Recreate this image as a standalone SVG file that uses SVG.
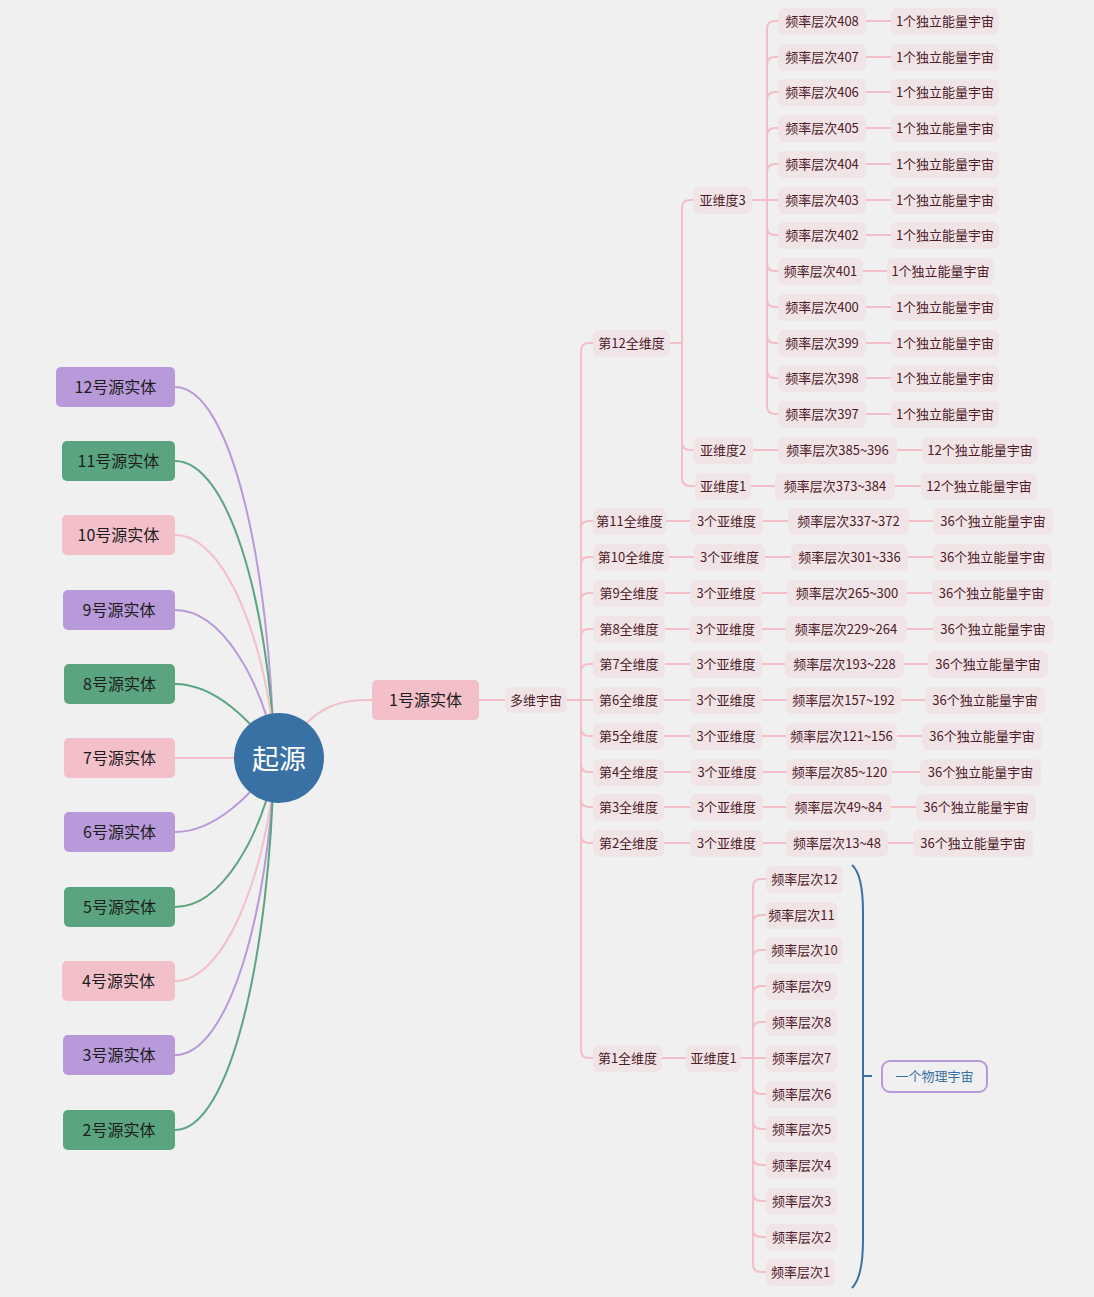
<svg xmlns="http://www.w3.org/2000/svg" width="1094" height="1297" viewBox="0 0 1094 1297">
<style>
text{font-family:'Noto Sans CJK SC','Noto Sans',sans-serif;dominant-baseline:central;text-anchor:middle;transform:translateY(-1px)}
.ln{fill:none;stroke:#f4bec8;stroke-width:2}
.sm rect{fill:#f1e4e7}
.sm text{font-size:13px;fill:#4d1a28}
.src text{font-size:16px;fill:#1d1d1d}
.pu{fill:#b899d9}.gr{fill:#5aa57f}.pk{fill:#f3bfc8}
.cpu{fill:none;stroke:#b899d9;stroke-width:2}
.cgr{fill:none;stroke:#5aa57f;stroke-width:2}
.cpk{fill:none;stroke:#f3bfc8;stroke-width:2}
</style>
<rect width="1094" height="1297" fill="#f0f0f0"/>

<g id="connectors">
  <!-- root to source entities -->
  <path class="cpu" d="M175 387C230 387 270 560 274 758"/>
  <path class="cgr" d="M175 461C228 461 268 600 275 758"/>
  <path class="cpk" d="M175 535C225 535 266 640 276 758"/>
  <path class="cpu" d="M175 610C222 610 262 680 277 758"/>
  <path class="cgr" d="M175 684C215 684 250 720 279 758"/>
  <path class="cpk" d="M175 758H279"/>
  <path class="cpu" d="M175 832C215 832 250 796 279 758"/>
  <path class="cgr" d="M175 907C222 907 262 836 277 758"/>
  <path class="cpk" d="M175 981C225 981 266 876 276 758"/>
  <path class="cpu" d="M175 1055C228 1055 268 916 275 758"/>
  <path class="cgr" d="M175 1130C230 1130 270 956 274 758"/>
  <path class="cpk" d="M279 758C315 700 345 700 372 700"/>

  <!-- 1号源实体 -> 多维宇宙 -->
  <path class="ln" d="M479 700H505"/>
  <!-- 多维宇宙 -> 全维度 -->
  <path class="ln" d="M567 700H581V351Q581 343 589 343H593"/>
  <path class="ln" d="M567 700H581V529Q581 521 589 521H593"/>
  <path class="ln" d="M567 700H581V565Q581 557 589 557H593"/>
  <path class="ln" d="M567 700H581V601Q581 593 589 593H593"/>
  <path class="ln" d="M567 700H581V637Q581 629 589 629H593"/>
  <path class="ln" d="M567 700H581V672Q581 664 589 664H593"/>
  <path class="ln" d="M567 700H593"/>
  <path class="ln" d="M567 700H581V728Q581 736 589 736H593"/>
  <path class="ln" d="M567 700H581V764Q581 772 589 772H593"/>
  <path class="ln" d="M567 700H581V799Q581 807 589 807H593"/>
  <path class="ln" d="M567 700H581V835Q581 843 589 843H593"/>
  <path class="ln" d="M567 700H581V1050Q581 1058 589 1058H593"/>

  <!-- 第12全维度 -> 亚维度 -->
  <path class="ln" d="M670 343H682V208Q682 200 690 200H693"/>
  <path class="ln" d="M670 343H682V442Q682 450 690 450H693"/>
  <path class="ln" d="M670 343H682V478Q682 486 690 486H695"/>

  <!-- 亚维度3 -> 频率层次 -->
  <path class="ln" d="M752 200H767V29Q767 21 775 21H778"/>
  <path class="ln" d="M752 200H767V65Q767 57 775 57H778"/>
  <path class="ln" d="M752 200H767V100Q767 92 775 92H778"/>
  <path class="ln" d="M752 200H767V136Q767 128 775 128H778"/>
  <path class="ln" d="M752 200H767V172Q767 164 775 164H778"/>
  <path class="ln" d="M752 200H778"/>
  <path class="ln" d="M752 200H767V227Q767 235 775 235H778"/>
  <path class="ln" d="M752 200H767V263Q767 271 775 271H778"/>
  <path class="ln" d="M752 200H767V299Q767 307 775 307H778"/>
  <path class="ln" d="M752 200H767V335Q767 343 775 343H778"/>
  <path class="ln" d="M752 200H767V370Q767 378 775 378H778"/>
  <path class="ln" d="M752 200H767V406Q767 414 775 414H778"/>

  <!-- 频率层次 -> 独立能量宇宙 -->
  <path class="ln" d="M866 21H891M866 57H891M866 92H891M866 128H891M866 164H891M866 200H891M866 235H891M863 271H887M866 307H891M866 343H891M866 378H891M866 414H891"/>

  <!-- 亚维度2 / 亚维度1 chains -->
  <path class="ln" d="M753 450H778M897 450H922"/>
  <path class="ln" d="M751 486H775M895 486H921"/>

  <!-- 第11 ~ 第2全维度 chains -->
  <path class="ln" d="M666 521H690M763 521H788M909 521H933"/>
  <path class="ln" d="M669 557H694M765 557H791M908 557H933"/>
  <path class="ln" d="M665 593H690M762 593H787M907 593H932"/>
  <path class="ln" d="M665 629H689M762 629H785M907 629H933"/>
  <path class="ln" d="M665 664H690M762 664H785M904 664H928"/>
  <path class="ln" d="M664 700H690M762 700H786M901 700H925"/>
  <path class="ln" d="M664 736H690M762 736H786M897 736H922"/>
  <path class="ln" d="M664 772H691M763 772H787M892 772H920"/>
  <path class="ln" d="M664 807H690M763 807H786M891 807H916"/>
  <path class="ln" d="M664 843H690M763 843H786M888 843H913"/>

  <!-- 第1全维度 -> 亚维度1 -> 频率层次 -->
  <path class="ln" d="M662 1058H686"/>
  <path class="ln" d="M741 1058H753V887Q753 879 761 879H766"/>
  <path class="ln" d="M741 1058H753V923Q753 915 761 915H766"/>
  <path class="ln" d="M741 1058H753V958Q753 950 761 950H766"/>
  <path class="ln" d="M741 1058H753V994Q753 986 761 986H766"/>
  <path class="ln" d="M741 1058H753V1030Q753 1022 761 1022H766"/>
  <path class="ln" d="M741 1058H766"/>
  <path class="ln" d="M741 1058H753V1086Q753 1094 761 1094H766"/>
  <path class="ln" d="M741 1058H753V1121Q753 1129 761 1129H766"/>
  <path class="ln" d="M741 1058H753V1157Q753 1165 761 1165H766"/>
  <path class="ln" d="M741 1058H753V1193Q753 1201 761 1201H766"/>
  <path class="ln" d="M741 1058H753V1229Q753 1237 761 1237H766"/>
  <path class="ln" d="M741 1058H753V1264Q753 1272 761 1272H766"/>

  <!-- summary brace -->
  <path d="M852 865C860 872 863 890 863 912V1240C863 1262 860 1280 852 1288" fill="none" stroke="#3a71a5" stroke-width="2"/>
  <path d="M863 1076H872" fill="none" stroke="#3a71a5" stroke-width="2"/>
</g>

<!-- central topic -->
<g id="root">
  <circle cx="279" cy="758" r="45" fill="#3a71a5"/>
  <text x="279" y="758" font-size="27" fill="#ffffff">起源</text>
</g>

<!-- source entities -->
<g class="src">
  <g id="src12"><rect class="pu" x="56" y="367" width="119" height="40" rx="5"/><text x="115.5" y="387">12号源实体</text></g>
  <g id="src11"><rect class="gr" x="62" y="441" width="113" height="40" rx="5"/><text x="118.5" y="461">11号源实体</text></g>
  <g id="src10"><rect class="pk" x="62" y="515" width="113" height="40" rx="5"/><text x="118.5" y="535">10号源实体</text></g>
  <g id="src9"><rect class="pu" x="63" y="590" width="112" height="40" rx="5"/><text x="119" y="610">9号源实体</text></g>
  <g id="src8"><rect class="gr" x="64" y="664" width="111" height="40" rx="5"/><text x="119.5" y="684">8号源实体</text></g>
  <g id="src7"><rect class="pk" x="64" y="738" width="111" height="40" rx="5"/><text x="119.5" y="758">7号源实体</text></g>
  <g id="src6"><rect class="pu" x="64" y="812" width="111" height="40" rx="5"/><text x="119.5" y="832">6号源实体</text></g>
  <g id="src5"><rect class="gr" x="64" y="887" width="111" height="40" rx="5"/><text x="119.5" y="907">5号源实体</text></g>
  <g id="src4"><rect class="pk" x="62" y="961" width="113" height="40" rx="5"/><text x="118.5" y="981">4号源实体</text></g>
  <g id="src3"><rect class="pu" x="63" y="1035" width="112" height="40" rx="5"/><text x="119" y="1055">3号源实体</text></g>
  <g id="src2"><rect class="gr" x="63" y="1110" width="112" height="40" rx="5"/><text x="119" y="1130">2号源实体</text></g>
  <g id="src1"><rect class="pk" x="372" y="680" width="107" height="40" rx="5"/><text x="425.5" y="700">1号源实体</text></g>
</g>

<g class="sm">
  <g id="multiverse"><rect x="505" y="687" width="62" height="26" rx="6"/><text x="536" y="700">多维宇宙</text></g>

  <!-- 全维度 -->
  <g id="d12"><rect x="593" y="330" width="77" height="27" rx="6"/><text x="631.5" y="343">第12全维度</text></g>
  <g id="d11"><rect x="593" y="508" width="73" height="27" rx="6"/><text x="629.5" y="521">第11全维度</text></g>
  <g id="d10"><rect x="593" y="544" width="76" height="27" rx="6"/><text x="631" y="557">第10全维度</text></g>
  <g id="d9"><rect x="593" y="580" width="72" height="27" rx="6"/><text x="629" y="593">第9全维度</text></g>
  <g id="d8"><rect x="593" y="616" width="72" height="27" rx="6"/><text x="629" y="629">第8全维度</text></g>
  <g id="d7"><rect x="593" y="651" width="72" height="27" rx="6"/><text x="629" y="664">第7全维度</text></g>
  <g id="d6"><rect x="593" y="687" width="71" height="27" rx="6"/><text x="628.5" y="700">第6全维度</text></g>
  <g id="d5"><rect x="593" y="723" width="71" height="27" rx="6"/><text x="628.5" y="736">第5全维度</text></g>
  <g id="d4"><rect x="593" y="759" width="71" height="27" rx="6"/><text x="628.5" y="772">第4全维度</text></g>
  <g id="d3"><rect x="593" y="794" width="71" height="27" rx="6"/><text x="628.5" y="807">第3全维度</text></g>
  <g id="d2"><rect x="593" y="830" width="71" height="27" rx="6"/><text x="628.5" y="843">第2全维度</text></g>
  <g id="d1"><rect x="593" y="1045" width="69" height="27" rx="6"/><text x="627.5" y="1058">第1全维度</text></g>

  <!-- 第12全维度 subdimensions -->
  <g id="d12s3"><rect x="693" y="187" width="59" height="27" rx="6"/><text x="722.5" y="200">亚维度3</text></g>
  <g id="d12s2"><rect x="693" y="437" width="60" height="27" rx="6"/><text x="723" y="450">亚维度2</text></g>
  <g id="d12s1"><rect x="695" y="473" width="56" height="27" rx="6"/><text x="723" y="486">亚维度1</text></g>

  <g id="f408"><rect x="778" y="8" width="88" height="27" rx="6"/><text x="822" y="21">频率层次408</text></g>
  <g id="u408"><rect x="891" y="8" width="108" height="27" rx="6"/><text x="945" y="21">1个独立能量宇宙</text></g>
  <g id="f407"><rect x="778" y="44" width="88" height="27" rx="6"/><text x="822" y="57">频率层次407</text></g>
  <g id="u407"><rect x="891" y="44" width="108" height="27" rx="6"/><text x="945" y="57">1个独立能量宇宙</text></g>
  <g id="f406"><rect x="778" y="79" width="88" height="27" rx="6"/><text x="822" y="92">频率层次406</text></g>
  <g id="u406"><rect x="891" y="79" width="108" height="27" rx="6"/><text x="945" y="92">1个独立能量宇宙</text></g>
  <g id="f405"><rect x="778" y="115" width="88" height="27" rx="6"/><text x="822" y="128">频率层次405</text></g>
  <g id="u405"><rect x="891" y="115" width="108" height="27" rx="6"/><text x="945" y="128">1个独立能量宇宙</text></g>
  <g id="f404"><rect x="778" y="151" width="88" height="27" rx="6"/><text x="822" y="164">频率层次404</text></g>
  <g id="u404"><rect x="891" y="151" width="108" height="27" rx="6"/><text x="945" y="164">1个独立能量宇宙</text></g>
  <g id="f403"><rect x="778" y="187" width="88" height="27" rx="6"/><text x="822" y="200">频率层次403</text></g>
  <g id="u403"><rect x="891" y="187" width="108" height="27" rx="6"/><text x="945" y="200">1个独立能量宇宙</text></g>
  <g id="f402"><rect x="778" y="222" width="88" height="27" rx="6"/><text x="822" y="235">频率层次402</text></g>
  <g id="u402"><rect x="891" y="222" width="108" height="27" rx="6"/><text x="945" y="235">1个独立能量宇宙</text></g>
  <g id="f401"><rect x="778" y="258" width="85" height="27" rx="6"/><text x="820.5" y="271">频率层次401</text></g>
  <g id="u401"><rect x="887" y="258" width="107" height="27" rx="6"/><text x="940.5" y="271">1个独立能量宇宙</text></g>
  <g id="f400"><rect x="778" y="294" width="88" height="27" rx="6"/><text x="822" y="307">频率层次400</text></g>
  <g id="u400"><rect x="891" y="294" width="108" height="27" rx="6"/><text x="945" y="307">1个独立能量宇宙</text></g>
  <g id="f399"><rect x="778" y="330" width="88" height="27" rx="6"/><text x="822" y="343">频率层次399</text></g>
  <g id="u399"><rect x="891" y="330" width="108" height="27" rx="6"/><text x="945" y="343">1个独立能量宇宙</text></g>
  <g id="f398"><rect x="778" y="365" width="88" height="27" rx="6"/><text x="822" y="378">频率层次398</text></g>
  <g id="u398"><rect x="891" y="365" width="108" height="27" rx="6"/><text x="945" y="378">1个独立能量宇宙</text></g>
  <g id="f397"><rect x="778" y="401" width="88" height="27" rx="6"/><text x="822" y="414">频率层次397</text></g>
  <g id="u397"><rect x="891" y="401" width="108" height="27" rx="6"/><text x="945" y="414">1个独立能量宇宙</text></g>

  <g id="f385"><rect x="778" y="437" width="119" height="27" rx="6"/><text x="837.5" y="450">频率层次385~396</text></g>
  <g id="u385"><rect x="922" y="437" width="116" height="27" rx="6"/><text x="980" y="450">12个独立能量宇宙</text></g>
  <g id="f373"><rect x="775" y="473" width="120" height="27" rx="6"/><text x="835" y="486">频率层次373~384</text></g>
  <g id="u373"><rect x="921" y="473" width="116" height="27" rx="6"/><text x="979" y="486">12个独立能量宇宙</text></g>

  <!-- 第11 ~ 第2全维度 -->
  <g id="s11"><rect x="690" y="508" width="73" height="27" rx="6"/><text x="726.5" y="521">3个亚维度</text></g>
  <g id="f337"><rect x="788" y="508" width="121" height="27" rx="6"/><text x="848.5" y="521">频率层次337~372</text></g>
  <g id="u337"><rect x="933" y="508" width="120" height="27" rx="6"/><text x="993" y="521">36个独立能量宇宙</text></g>

  <g id="s10"><rect x="694" y="544" width="71" height="27" rx="6"/><text x="729.5" y="557">3个亚维度</text></g>
  <g id="f301"><rect x="791" y="544" width="117" height="27" rx="6"/><text x="849.5" y="557">频率层次301~336</text></g>
  <g id="u301"><rect x="933" y="544" width="119" height="27" rx="6"/><text x="992.5" y="557">36个独立能量宇宙</text></g>

  <g id="s9"><rect x="690" y="580" width="72" height="27" rx="6"/><text x="726" y="593">3个亚维度</text></g>
  <g id="f265"><rect x="787" y="580" width="120" height="27" rx="6"/><text x="847" y="593">频率层次265~300</text></g>
  <g id="u265"><rect x="932" y="580" width="119" height="27" rx="6"/><text x="991.5" y="593">36个独立能量宇宙</text></g>

  <g id="s8"><rect x="689" y="616" width="73" height="27" rx="6"/><text x="725.5" y="629">3个亚维度</text></g>
  <g id="f229"><rect x="785" y="616" width="122" height="27" rx="6"/><text x="846" y="629">频率层次229~264</text></g>
  <g id="u229"><rect x="933" y="616" width="120" height="27" rx="6"/><text x="993" y="629">36个独立能量宇宙</text></g>

  <g id="s7"><rect x="690" y="651" width="72" height="27" rx="6"/><text x="726" y="664">3个亚维度</text></g>
  <g id="f193"><rect x="785" y="651" width="119" height="27" rx="6"/><text x="844.5" y="664">频率层次193~228</text></g>
  <g id="u193"><rect x="928" y="651" width="120" height="27" rx="6"/><text x="988" y="664">36个独立能量宇宙</text></g>

  <g id="s6"><rect x="690" y="687" width="72" height="27" rx="6"/><text x="726" y="700">3个亚维度</text></g>
  <g id="f157"><rect x="786" y="687" width="115" height="27" rx="6"/><text x="843.5" y="700">频率层次157~192</text></g>
  <g id="u157"><rect x="925" y="687" width="120" height="27" rx="6"/><text x="985" y="700">36个独立能量宇宙</text></g>

  <g id="s5"><rect x="690" y="723" width="72" height="27" rx="6"/><text x="726" y="736">3个亚维度</text></g>
  <g id="f121"><rect x="786" y="723" width="111" height="27" rx="6"/><text x="841.5" y="736">频率层次121~156</text></g>
  <g id="u121"><rect x="922" y="723" width="120" height="27" rx="6"/><text x="982" y="736">36个独立能量宇宙</text></g>

  <g id="s4"><rect x="691" y="759" width="72" height="27" rx="6"/><text x="727" y="772">3个亚维度</text></g>
  <g id="f85"><rect x="787" y="759" width="105" height="27" rx="6"/><text x="839.5" y="772">频率层次85~120</text></g>
  <g id="u85"><rect x="920" y="759" width="121" height="27" rx="6"/><text x="980.5" y="772">36个独立能量宇宙</text></g>

  <g id="s3"><rect x="690" y="794" width="73" height="27" rx="6"/><text x="726.5" y="807">3个亚维度</text></g>
  <g id="f49"><rect x="786" y="794" width="105" height="27" rx="6"/><text x="838.5" y="807">频率层次49~84</text></g>
  <g id="u49"><rect x="916" y="794" width="120" height="27" rx="6"/><text x="976" y="807">36个独立能量宇宙</text></g>

  <g id="s2"><rect x="690" y="830" width="73" height="27" rx="6"/><text x="726.5" y="843">3个亚维度</text></g>
  <g id="f13"><rect x="786" y="830" width="102" height="27" rx="6"/><text x="837" y="843">频率层次13~48</text></g>
  <g id="u13"><rect x="913" y="830" width="120" height="27" rx="6"/><text x="973" y="843">36个独立能量宇宙</text></g>

  <!-- 第1全维度 -->
  <g id="d1s1"><rect x="686" y="1045" width="55" height="27" rx="6"/><text x="713.5" y="1058">亚维度1</text></g>
  <g id="f12"><rect x="766" y="866" width="77" height="27" rx="6"/><text x="804.5" y="879">频率层次12</text></g>
  <g id="f11"><rect x="766" y="902" width="71" height="27" rx="6"/><text x="801.5" y="915">频率层次11</text></g>
  <g id="f10"><rect x="766" y="937" width="77" height="27" rx="6"/><text x="804.5" y="950">频率层次10</text></g>
  <g id="f9"><rect x="766" y="973" width="71" height="27" rx="6"/><text x="801.5" y="986">频率层次9</text></g>
  <g id="f8"><rect x="766" y="1009" width="71" height="27" rx="6"/><text x="801.5" y="1022">频率层次8</text></g>
  <g id="f7"><rect x="766" y="1045" width="71" height="27" rx="6"/><text x="801.5" y="1058">频率层次7</text></g>
  <g id="f6"><rect x="766" y="1081" width="71" height="27" rx="6"/><text x="801.5" y="1094">频率层次6</text></g>
  <g id="f5"><rect x="766" y="1116" width="71" height="27" rx="6"/><text x="801.5" y="1129">频率层次5</text></g>
  <g id="f4"><rect x="766" y="1152" width="71" height="27" rx="6"/><text x="801.5" y="1165">频率层次4</text></g>
  <g id="f3"><rect x="766" y="1188" width="71" height="27" rx="6"/><text x="801.5" y="1201">频率层次3</text></g>
  <g id="f2"><rect x="766" y="1224" width="71" height="27" rx="6"/><text x="801.5" y="1237">频率层次2</text></g>
  <g id="f1"><rect x="766" y="1259" width="69" height="27" rx="6"/><text x="800.5" y="1272">频率层次1</text></g>
</g>

<!-- summary label -->
<g id="summary">
  <rect x="882" y="1061" width="105" height="31" rx="8" fill="none" stroke="#b899d9" stroke-width="2"/>
  <text x="934.5" y="1076" font-size="13" fill="#3a71a5">一个物理宇宙</text>
</g>
</svg>
